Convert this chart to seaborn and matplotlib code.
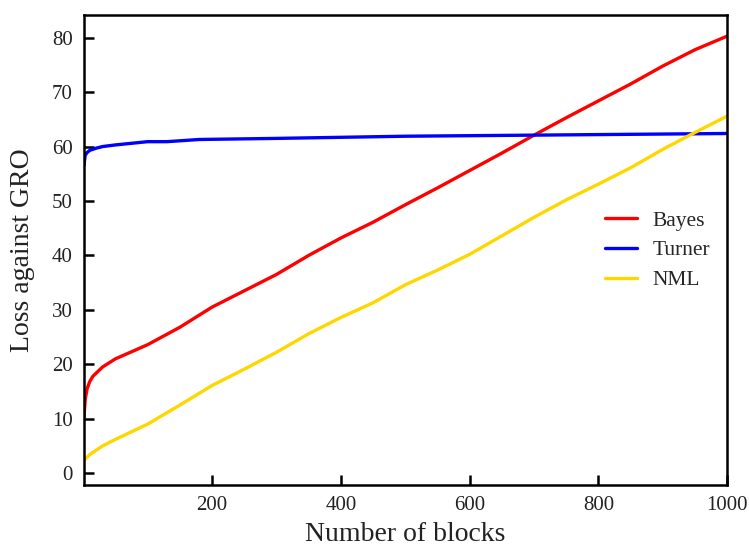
import matplotlib
matplotlib.use("Agg")
import matplotlib.pyplot as plt
import seaborn as sns
import pandas as pd

# Cumulative loss against GRO as blocks accumulate
blocks_bayes = [1, 3, 6, 10, 15, 30, 50, 100, 150, 200, 250, 300, 350, 400, 450, 500,
                550, 600, 650, 700, 750, 800, 850, 900, 950, 1000]
loss_bayes = [10.0, 13.5, 15.5, 16.8, 17.8, 19.5, 21.0, 23.6, 26.8, 30.5, 33.5, 36.5, 40.0,
              43.2, 46.1, 49.3, 52.4, 55.6, 58.8, 62.1, 65.3, 68.4, 71.5, 74.8, 77.8, 80.3]

blocks_turner = [1, 3, 6, 10, 20, 30, 50, 75, 100, 130, 180, 300, 400, 500, 600, 700,
                 800, 900, 1000]
loss_turner = [56.5, 58.4, 58.9, 59.3, 59.7, 60.0, 60.3, 60.6, 60.9, 60.9, 61.3, 61.5,
               61.7, 61.9, 62.0, 62.1, 62.2, 62.3, 62.4]

blocks_nml = [1, 10, 30, 50, 100, 150, 200, 250, 300, 350, 400, 450, 500, 550, 600, 650,
              700, 750, 800, 850, 900, 950, 1000]
loss_nml = [2.3, 3.4, 5.0, 6.2, 9.0, 12.5, 16.1, 19.1, 22.2, 25.6, 28.6, 31.3, 34.6, 37.3,
            40.2, 43.6, 47.0, 50.2, 53.1, 56.1, 59.5, 62.6, 65.6]

methods = ["Bayes", "Turner", "NML"]
colors = ["#ff0000", "#0000ff", "#ffd700"]

df = pd.concat([
    pd.DataFrame({"blocks": blocks_bayes, "loss": loss_bayes, "method": "Bayes"}),
    pd.DataFrame({"blocks": blocks_turner, "loss": loss_turner, "method": "Turner"}),
    pd.DataFrame({"blocks": blocks_nml, "loss": loss_nml, "method": "NML"}),
], ignore_index=True)

sns.set_theme(style="white")
plt.rcParams["font.family"] = ["Liberation Serif", "DejaVu Serif"]

fig = plt.figure(figsize=(7.49, 5.5), dpi=100)
ax = fig.add_axes([0.112, 0.118, 0.859, 0.855])

sns.lineplot(data=df, x="blocks", y="loss", hue="method", hue_order=methods,
             palette=colors, linewidth=2.4, ax=ax)

ax.set_xlim(1, 1000)
ax.set_ylim(-2.2, 84.2)
ax.set_xticks([200, 400, 600, 800, 1000])
ax.set_yticks(range(0, 81, 10))
ax.tick_params(axis="both", direction="in", length=7, width=1.8, labelsize=15,
               colors="black", labelcolor="#222222", pad=8,
               bottom=True, left=True, top=False, right=False)
for s in ax.spines.values():
    s.set_linewidth(1.8)
    s.set_color("black")

ax.set_xlabel("Number of blocks", fontsize=20, color="#222222", labelpad=5)
ax.set_ylabel("Loss against GRO", fontsize=20, color="#222222", labelpad=12)

leg = ax.legend(loc="upper left", bbox_to_anchor=(0.78, 0.625), frameon=False,
                fontsize=15.5, handlelength=1.5, handletextpad=0.7, labelspacing=0.45)
for line in leg.get_lines():
    line.set_linewidth(2.4)

fig.savefig("out.png", dpi=100)
